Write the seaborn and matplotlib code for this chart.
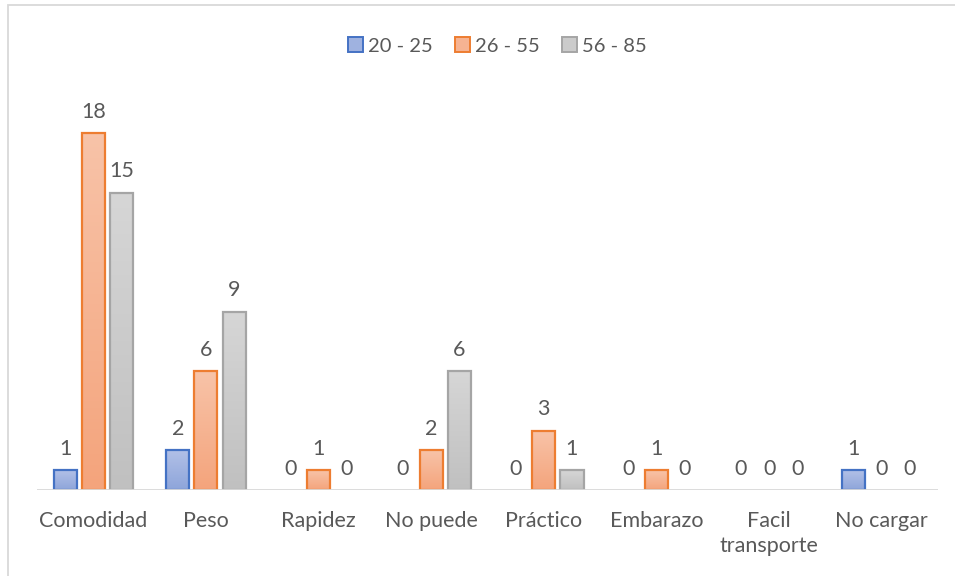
import numpy as np
import pandas as pd
import matplotlib
matplotlib.use('Agg')
import matplotlib.pyplot as plt
from matplotlib.patches import Rectangle, Patch
from matplotlib.colors import LinearSegmentedColormap
import seaborn as sns

# datos
categorias = ['Comodidad', 'Peso', 'Rapidez', 'No puede', 'Práctico', 'Embarazo', 'Facil\ntransporte', 'No cargar']
grupos = ['20 - 25', '26 - 55', '56 - 85']
edad_20_25 = [1, 2, 0, 0, 0, 0, 0, 1]
edad_26_55 = [18, 6, 1, 2, 3, 1, 0, 0]
edad_56_85 = [15, 9, 0, 6, 1, 0, 0, 0]

df = pd.DataFrame({
    'categoria': categorias * 3,
    'grupo': [grupos[0]] * 8 + [grupos[1]] * 8 + [grupos[2]] * 8,
    'valor': edad_20_25 + edad_26_55 + edad_56_85,
})

# colores (borde, arriba, abajo)
bordes = {'20 - 25': '#4472c4', '26 - 55': '#ed7d31', '56 - 85': '#a5a5a5'}
arriba = {'20 - 25': '#b1c0e7', '26 - 55': '#f8c3a8', '56 - 85': '#d6d6d6'}
abajo = {'20 - 25': '#8ea5da', '26 - 55': '#f4a47c', '56 - 85': '#c0c0c0'}
medio = {'20 - 25': '#9fb2e0', '26 - 55': '#f6b392', '56 - 85': '#cbcbcb'}

sns.set_theme(style='white')
plt.rcParams['font.family'] = ['Lato', 'DejaVu Sans']
texto = '#595959'

fig = plt.figure(figsize=(9.55, 5.76), dpi=100)
# marco del grafico
fig.patches.append(Rectangle((8 / 955, -0.2), 1.2, 1.2 - 4.5 / 576, transform=fig.transFigure,
                             facecolor='none', edgecolor='#d9d9d9', linewidth=1.3, zorder=0))

ax = fig.add_axes([37 / 955, 1 - 490 / 576, 901 / 955, (490 - 93.4) / 576])
sns.barplot(data=df, x='categoria', y='valor', hue='grupo', hue_order=grupos, order=categorias,
            palette=medio, width=0.75, gap=0.18, ax=ax, legend=False, linewidth=0)

ax.set_ylim(0, 20)
ax.set_xlim(-0.5, len(categorias) - 0.5)

# gradiente en cada barra
n = len(categorias)
for i, bar in enumerate(ax.patches[:3 * n]):
    g = grupos[i // n]
    val = df['valor'].iloc[i]
    x0, w = bar.get_x(), bar.get_width()
    h = bar.get_height()
    if h > 0:
        cmap = LinearSegmentedColormap.from_list('g', [abajo[g], arriba[g]])
        grad = np.linspace(0, 1, 100).reshape(-1, 1)
        im = ax.imshow(grad, cmap=cmap, aspect='auto', origin='lower',
                       extent=(x0, x0 + w, 0, h), zorder=2)
        im.set_clip_path(bar)
        bar.set_facecolor('none')
        bar.set_edgecolor(bordes[g])
        bar.set_linewidth(1.6)
        bar.set_zorder(3)
    ax.annotate(f'{val}', (x0 + w / 2, h), xytext=(0, 8), textcoords='offset points',
                ha='center', va='bottom', fontsize=15.5, color=texto)

ax.axhline(0, color='#d9d9d9', linewidth=1.3, zorder=4)
for s in ax.spines.values():
    s.set_visible(False)
ax.set_yticks([])
ax.set_xlabel('')
ax.set_ylabel('')
ax.tick_params(axis='x', length=0, pad=15, labelsize=15.5, labelcolor=texto)
for lab in ax.get_xticklabels():
    lab.set_linespacing(1.3)
ax.set_facecolor('none')

handles = [Patch(facecolor=medio[g], edgecolor=bordes[g], linewidth=1.4, label=g) for g in grupos]
fig.legend(handles=handles, loc='center', bbox_to_anchor=(497 / 955, 1 - 46 / 576), ncol=3,
           frameon=False, fontsize=14.5, labelcolor=texto, handlelength=0.75, handleheight=0.75,
           handletextpad=0.25, columnspacing=1.1)

fig.savefig('out.png', dpi=100)
